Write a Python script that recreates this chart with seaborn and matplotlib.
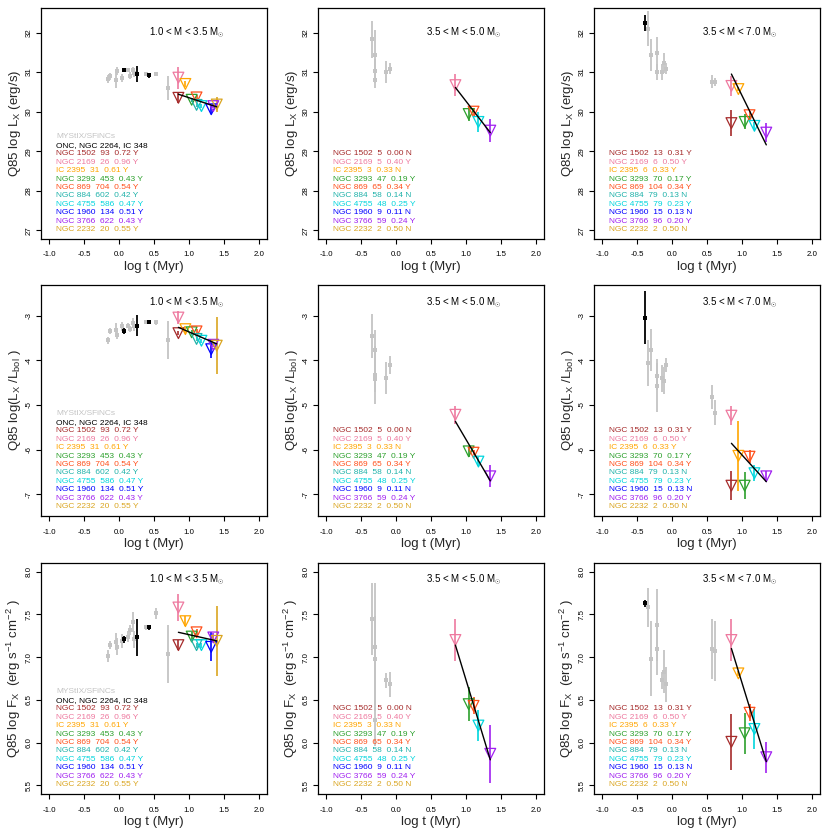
import numpy as np
import pandas as pd
import matplotlib
matplotlib.use("Agg")
import matplotlib.pyplot as plt
import seaborn as sns

# ---------------- data ----------------
nan = np.nan
clusters = ["NGC 1502", "NGC 2169", "IC 2395", "NGC 3293", "NGC 869",
            "NGC 884", "NGC 4755", "NGC 1960", "NGC 3766", "NGC 2232"]
cluster_colors = ["#A52A2A", "#EE799F", "#FFA500", "#2CA02C", "#FF4F1A",
                  "#20B2AA", "#00D5DD", "#0000FF", "#A020F0", "#DAA520"]
cluster_age = [0.85, 0.85, 0.95, 1.04, 1.11, 1.11, 1.18, 1.32, 1.35, 1.40]

mass_titles = [r"1.0 < M < 3.5 M$_{\odot}$", r"3.5 < M < 5.0 M$_{\odot}$", r"3.5 < M < 7.0 M$_{\odot}$"]

n_lo = [93, 26, 31, 453, 704, 602, 586, 134, 622, 20]
f_lo = [0.72, 0.96, 0.61, 0.43, 0.54, 0.42, 0.47, 0.51, 0.43, 0.55]
flag_lo = ["Y", "Y", "Y", "Y", "Y", "Y", "Y", "Y", "Y", "Y"]
n_mid = [5, 5, 3, 47, 65, 58, 48, 9, 59, 2]
f_mid = [0.00, 0.40, 0.33, 0.19, 0.34, 0.14, 0.25, 0.11, 0.24, 0.50]
flag_mid = ["N", "Y", "N", "Y", "Y", "N", "Y", "N", "Y", "N"]
n_hi = [13, 6, 6, 70, 104, 79, 79, 15, 96, 2]
f_hi = [0.31, 0.50, 0.33, 0.17, 0.34, 0.13, 0.23, 0.13, 0.20, 0.50]
flag_hi = ["Y", "Y", "Y", "Y", "Y", "N", "Y", "N", "Y", "N"]

# triangles (clusters) per panel
LX_lo = [30.35, 30.86, 30.70, 30.30, 30.36, 30.17, 30.14, 30.06, 30.14, 30.18]
LX_lo_err = [0.12, 0.28, 0.08, 0.05, 0.06, 0.05, 0.05, 0.10, 0.05, 0.20]
LX_mid = [nan, 30.67, nan, 29.94, 30.00, nan, 29.74, nan, 29.52, nan]
LX_mid_err = [nan, 0.27, nan, 0.18, 0.08, nan, 0.25, nan, 0.30, nan]
LX_hi = [29.71, 30.65, 30.57, 29.74, 29.91, nan, 29.64, nan, 29.47, nan]
LX_hi_err = [0.32, 0.25, 0.05, 0.19, 0.10, nan, 0.10, nan, 0.25, nan]

LXL_lo = [-3.39, -3.04, -3.30, -3.37, -3.35, -3.52, -3.56, -3.75, -3.65, -3.67]
LXL_lo_err = [0.05, 0.14, 0.08, 0.05, 0.05, 0.05, 0.05, 0.20, 0.05, 0.64]
LXL_mid = [nan, -5.22, nan, -6.04, -6.07, nan, -6.27, nan, -6.60, nan]
LXL_mid_err = [nan, 0.20, nan, 0.12, 0.05, nan, 0.10, nan, 0.25, nan]
LXL_hi = [-6.81, -5.24, -6.14, -6.81, -6.16, nan, -6.53, nan, -6.60, nan]
LXL_hi_err = [0.32, 0.22, 0.78, 0.30, 0.15, nan, 0.18, nan, 0.13, nan]

FX_lo = [7.14, 7.58, 7.42, 7.24, 7.29, 7.14, 7.14, 7.12, 7.23, 7.19]
FX_lo_err = [0.06, 0.16, 0.06, 0.05, 0.04, 0.03, 0.03, 0.17, 0.05, 0.41]
FX_mid = [nan, 7.20, nan, 6.45, 6.43, nan, 6.20, nan, 5.87, nan]
FX_mid_err = [nan, 0.24, nan, 0.20, 0.10, nan, 0.18, nan, 0.34, nan]
FX_hi = [6.01, 7.20, 6.81, 6.11, 6.35, nan, 6.16, nan, 5.83, nan]
FX_hi_err = [0.33, 0.25, 0.03, 0.24, 0.10, nan, 0.23, nan, 0.18, nan]

# fitted lines (start, end)
fit_x_lo = [0.85, 1.40]
fit_x_hi = [0.85, 1.35]
fit_LX_lo = [30.44, 30.12]
fit_LX_mid = [30.61, 29.47]
fit_LX_hi = [30.95, 29.16]
fit_LXL_lo = [-3.26, -3.63]
fit_LXL_mid = [-5.37, -6.70]
fit_LXL_hi = [-5.86, -6.72]
fit_FX_lo = [7.29, 7.19]
fit_FX_mid = [7.14, 5.80]
fit_FX_hi = [7.10, 5.78]

# MYStIX/SFiNCs (grey) and ONC/NGC 2264/IC 348 (black)
gray_age_lo = [-0.16, -0.13, -0.05, -0.03, 0.04, 0.13, 0.15, 0.20, 0.22, 0.39, 0.53, 0.70]
gray_LX_lo = [30.82, 30.89, 30.80, 31.03, 30.84, 31.06, 30.91, 31.06, 30.97, 30.96, 30.95, 30.59]
gray_LX_lo_err = [0.10, 0.08, 0.20, 0.10, 0.10, 0.05, 0.08, 0.08, 0.10, 0.04, 0.04, 0.30]
gray_LXL_lo = [-3.55, -3.35, -3.31, -3.43, -3.24, -3.22, -3.30, -3.16, -3.24, -3.13, -3.15, -3.54]
gray_LXL_lo_err = [0.08, 0.07, 0.15, 0.10, 0.10, 0.05, 0.06, 0.10, 0.10, 0.03, 0.05, 0.43]
gray_FX_lo = [7.01, 7.14, 7.18, 7.12, 7.19, 7.24, 7.32, 7.41, 7.21, 7.35, 7.51, 7.04]
gray_FX_lo_err = [0.07, 0.05, 0.10, 0.10, 0.08, 0.06, 0.06, 0.12, 0.10, 0.03, 0.06, 0.34]
black_age_lo = [0.07, 0.26, 0.43]
black_LX_lo = [31.05, 30.96, 30.92]
black_LX_lo_err = [0.06, 0.20, 0.06]
black_LXL_lo = [-3.34, -3.22, -3.14]
black_LXL_lo_err = [0.06, 0.23, 0.03]
black_FX_lo = [7.21, 7.23, 7.35]
black_FX_lo_err = [0.04, 0.22, 0.03]

gray_age_mid = [-0.34, -0.30, -0.30, -0.30, -0.15, -0.09]
gray_LX_mid = [31.83, 31.42, 31.02, 30.80, 31.00, 31.09]
gray_LX_mid_err = [0.47, 0.65, 0.30, 0.20, 0.27, 0.15]
gray_LXL_mid = [-3.46, -3.76, -4.33, -4.42, -4.40, -4.10]
gray_LXL_mid_err = [0.49, 0.45, 0.65, 0.30, 0.36, 0.20]
gray_FX_mid = [7.45, 7.12, 6.98, 6.26, 6.73, 6.68]
gray_FX_mid_err = [0.42, 0.75, 0.50, 0.30, 0.09, 0.15]

gray_age_hi = [-0.34, -0.30, -0.22, -0.22, -0.14, -0.12, -0.09, 0.57, 0.62]
gray_LX_hi = [32.10, 31.43, 31.47, 31.00, 31.00, 31.22, 31.09, 30.76, 30.76]
gray_LX_hi_err = [0.45, 0.40, 0.42, 0.20, 0.20, 0.25, 0.15, 0.17, 0.10]
gray_LXL_hi = [-4.06, -3.76, -4.57, -4.36, -4.40, -4.46, -4.10, -4.83, -5.18]
gray_LXL_hi_err = [0.52, 0.47, 0.59, 0.30, 0.30, 0.30, 0.15, 0.27, 0.28]
gray_FX_hi = [7.58, 6.98, 7.38, 7.09, 6.73, 6.83, 6.68, 7.09, 7.07]
gray_FX_hi_err = [0.23, 0.44, 0.42, 0.30, 0.10, 0.25, 0.20, 0.35, 0.35]
black_age_hi = [-0.39]
black_LX_hi = [32.25]
black_LX_hi_err = [0.20]
black_LXL_hi = [-3.04]
black_LXL_hi_err = [0.60]
black_FX_hi = [7.63]
black_FX_hi_err = [0.04]

xticks = [-1.0, -0.5, 0.0, 0.5, 1.0, 1.5, 2.0]
yticks_LX = [27, 28, 29, 30, 31, 32]
yticks_LXL = [-7, -6, -5, -4, -3]
yticks_FX = [5.5, 6.0, 6.5, 7.0, 7.5, 8.0]

# ---------------- style ----------------
sns.set_theme(style="white")
plt.rcParams.update({
    "font.family": ["Liberation Sans", "DejaVu Sans"],
    "mathtext.fontset": "custom",
    "mathtext.rm": "Liberation Sans",
    "mathtext.it": "Liberation Sans:italic",
    "mathtext.bf": "Liberation Sans:bold",
    "axes.unicode_minus": False,
    "axes.edgecolor": "black",
    "axes.linewidth": 0.9,
    "xtick.color": "black",
    "ytick.color": "black",
    "xtick.bottom": True,
    "ytick.left": True,
})

GRAY = "#C4C4C4"
palette = dict(zip(clusters, cluster_colors))

fig = plt.figure(figsize=(8.3, 8.3), dpi=100)
W = 830.0
col_left = [41, 318, 594]
row_top = [8, 285, 563]
aw, ah = 226, 231

ylabels = [r"Q85 log L$_{\mathregular{X}}$ (erg/s)",
           r"Q85 log(L$_{\mathregular{X}}$ /L$_{\mathregular{bol}}$ )",
           r"Q85 log F$_{\mathregular{X}}$  (erg s$^{\mathregular{-1}}$ cm$^{\mathregular{-2}}$ )"]
ylims = [(26.78, 32.62), (-7.49, -2.31), (5.40, 8.10)]
ytick_sets = [yticks_LX, yticks_LXL, yticks_FX]
ytick_fmt = ["{:.0f}", "{:.0f}", "{:.1f}"]
title_y = [0.892, 0.922, 0.928]

tri = [[(LX_lo, LX_lo_err), (LX_mid, LX_mid_err), (LX_hi, LX_hi_err)],
       [(LXL_lo, LXL_lo_err), (LXL_mid, LXL_mid_err), (LXL_hi, LXL_hi_err)],
       [(FX_lo, FX_lo_err), (FX_mid, FX_mid_err), (FX_hi, FX_hi_err)]]
fits = [[fit_LX_lo, fit_LX_mid, fit_LX_hi],
        [fit_LXL_lo, fit_LXL_mid, fit_LXL_hi],
        [fit_FX_lo, fit_FX_mid, fit_FX_hi]]
fit_xs = [fit_x_lo, fit_x_hi, fit_x_hi]
gray_ages = [gray_age_lo, gray_age_mid, gray_age_hi]
grays = [[(gray_LX_lo, gray_LX_lo_err), (gray_LX_mid, gray_LX_mid_err), (gray_LX_hi, gray_LX_hi_err)],
         [(gray_LXL_lo, gray_LXL_lo_err), (gray_LXL_mid, gray_LXL_mid_err), (gray_LXL_hi, gray_LXL_hi_err)],
         [(gray_FX_lo, gray_FX_lo_err), (gray_FX_mid, gray_FX_mid_err), (gray_FX_hi, gray_FX_hi_err)]]
black_ages = [black_age_lo, [], black_age_hi]
blacks = [[(black_LX_lo, black_LX_lo_err), ([], []), (black_LX_hi, black_LX_hi_err)],
          [(black_LXL_lo, black_LXL_lo_err), ([], []), (black_LXL_hi, black_LXL_hi_err)],
          [(black_FX_lo, black_FX_lo_err), ([], []), (black_FX_hi, black_FX_hi_err)]]
stats = [(n_lo, f_lo, flag_lo), (n_mid, f_mid, flag_mid), (n_hi, f_hi, flag_hi)]


def legend_lines(c):
    n, f, fl = stats[c]
    lines = []
    if c == 0:
        lines.append(("MYStIX/SFiNCs", GRAY))
        lines.append(("ONC, NGC 2264, IC 348", "black"))
    for i, name in enumerate(clusters):
        lines.append((f"{name}  {n[i]}  {f[i]:.2f} {fl[i]}", cluster_colors[i]))
    return lines


for r in range(3):
    for c in range(3):
        ax = fig.add_axes([col_left[c] / W, 1 - (row_top[r] + ah) / W, aw / W, ah / W])
        # grey MYStIX points
        gx = np.array(gray_ages[c]); gy = np.array(grays[r][c][0]); ge = np.array(grays[r][c][1])
        ax.vlines(gx, gy - ge, gy + ge, colors=GRAY, lw=1.3, zorder=1)
        sns.scatterplot(x=gx, y=gy, color=GRAY, marker="s", s=7, linewidth=0, ax=ax, legend=False, zorder=2)
        # black points
        if len(black_ages[c]):
            bx = np.array(black_ages[c]); by = np.array(blacks[r][c][0]); be = np.array(blacks[r][c][1])
            ax.vlines(bx, by - be, by + be, colors="black", lw=1.3, zorder=3)
            sns.scatterplot(x=bx, y=by, color="black", marker="s", s=8, linewidth=0, ax=ax, legend=False, zorder=4)
        # cluster triangles
        vals, errs = tri[r][c]
        df = pd.DataFrame({"cluster": clusters, "age": cluster_age, "val": vals, "err": errs}).dropna()
        ax.vlines(df["age"], df["val"] - df["err"], df["val"] + df["err"],
                  colors=[palette[k] for k in df["cluster"]], lw=1.2, zorder=5)
        sns.scatterplot(data=df, x="age", y="val", hue="cluster", palette=palette,
                        marker="v", s=60, linewidth=0.9, ax=ax, legend=False, zorder=6)
        coll = ax.collections[-1]
        coll.set_edgecolors(coll.get_facecolors())
        coll.set_facecolors("none")
        # fit line
        sns.lineplot(x=fit_xs[c], y=fits[r][c], color="black", lw=1.0, ax=ax, zorder=7)

        ax.set_xlim(-1.12, 2.12)
        ax.set_ylim(*ylims[r])
        ax.set_xticks(xticks)
        ax.set_xticklabels([f"{t:.1f}" for t in xticks])
        ax.set_yticks(ytick_sets[r])
        ax.set_yticklabels([ytick_fmt[r].format(t) for t in ytick_sets[r]], rotation=90, va="center")
        ax.tick_params(axis="both", which="major", labelsize=5.7, length=3.5, width=0.8, pad=2.5, direction="out")
        ax.tick_params(axis="x", pad=5.5)
        ax.set_xlabel("log t (Myr)", fontsize=9.5, labelpad=1.5)
        ax.set_ylabel(ylabels[r], fontsize=9.5, labelpad=2)
        for sp in ax.spines.values():
            sp.set_color("black"); sp.set_linewidth(0.9)

        ax.text(0.645, title_y[r], mass_titles[c], transform=ax.transAxes,
                ha="center", va="center", fontsize=7, color="black")
        lines = legend_lines(c)
        nl = len(lines)
        for i, (txt, col) in enumerate(lines):
            ax.text(0.068, 0.040 + (nl - 1 - i) * 0.0366, txt, transform=ax.transAxes,
                    ha="left", va="center", fontsize=6, color=col)

fig.savefig("out.png", dpi=100)
